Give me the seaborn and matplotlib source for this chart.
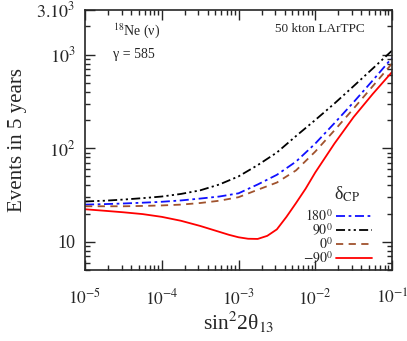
import numpy as np
import pandas as pd
import matplotlib
matplotlib.use('Agg')
import matplotlib.pyplot as plt
from matplotlib.ticker import LogLocator, NullFormatter, FixedLocator, FixedFormatter
import seaborn as sns

# Datos (exponente de sin^2 2theta13)
log_sin2 = [-5, -4.75, -4.5, -4.25, -4, -3.75, -3.5, -3.25, -3,
            -2.75, -2.5, -2.25, -2, -1.75, -1.5, -1.25, -1]
ev_180 = [25, 25.3, 25.7, 26.2, 26.8, 27.7, 29, 30.5, 33,
          41, 52, 72, 112, 185, 310, 530, 920]
ev_90 = [27, 27.5, 28.3, 29.3, 30.5, 32.5, 35.5, 41, 50,
         66, 90, 135, 200, 300, 460, 710, 1100]
ev_0 = [24, 24, 24, 24.2, 24.5, 25, 26, 27.5, 30,
        36, 43, 58, 92, 155, 265, 460, 800]

# la curva -90 tiene más puntos alrededor del mínimo
log_sin2_m90 = [-5, -4.75, -4.5, -4.25, -4, -3.75, -3.5, -3.25, -3.125, -3,
                -2.875, -2.75, -2.625, -2.5, -2.375, -2.25, -2.125, -2,
                -1.75, -1.5, -1.25, -1]
ev_m90 = [22.3, 21.5, 20.7, 19.8, 18.5, 16.8, 14.8, 12.8, 11.9, 11.2,
          10.8, 10.75, 11.6, 13.6, 18.5, 26, 37, 55,
          112, 215, 380, 650]

labels = [r'$180^0$', r'$90^0$', r'$0^0$', r'$-90^0$']
colors = ['#1010ff', '#000000', '#a0522d', '#ff0000']
styles = [(0, (5, 2, 1.5, 2)), (0, (5, 1.8, 1.2, 1.8, 1.2, 1.8)), (0, (4, 3)), '-']

xs = [log_sin2, log_sin2, log_sin2, log_sin2_m90]
series = [ev_180, ev_90, ev_0, ev_m90]

sns.set_style('ticks')
plt.rcParams['font.family'] = ['Liberation Serif', 'DejaVu Serif']
plt.rcParams['mathtext.fontset'] = 'stix'

fig = plt.figure(figsize=(4.07, 3.41), dpi=100)
ax = fig.add_axes([0.209, 0.208, 0.754, 0.763])

for xe, y, lab, c, ls in zip(xs, series, labels, colors, styles):
    sns.lineplot(x=10.0 ** np.array(xe), y=np.array(y, dtype=float), ax=ax, color=c,
                 linestyle=ls, linewidth=1.3, label=lab)

ax.set_xscale('log')
ax.set_yscale('log')
ax.set_xlim(1e-5, 1e-1)
ax.set_ylim(5, 3000)

ax.xaxis.set_major_locator(FixedLocator([1e-5, 1e-4, 1e-3, 1e-2, 1e-1]))
ax.xaxis.set_major_formatter(FixedFormatter([r'$10^{-5}$', r'$10^{-4}$', r'$10^{-3}$',
                                              r'$10^{-2}$', r'$10^{-1}$']))
ax.xaxis.set_minor_locator(LogLocator(base=10, subs=np.arange(2, 10)))
ax.xaxis.set_minor_formatter(NullFormatter())
ax.yaxis.set_major_locator(FixedLocator([10, 100, 1000, 3000]))
ax.yaxis.set_major_formatter(FixedFormatter(['10', r'$10^2$', r'$10^3$', r'$3.10^3$']))
ax.yaxis.set_minor_locator(LogLocator(base=10, subs=np.arange(2, 10)))
ax.yaxis.set_minor_formatter(NullFormatter())

ax.tick_params(which='both', direction='in', top=True, right=True, labelsize=13, width=1)
ax.tick_params(axis='x', which='major', length=7, pad=13, labelsize=12.5)
ax.tick_params(axis='y', which='major', length=7, pad=7)
ax.tick_params(which='minor', length=3.5)
for s in ax.spines.values():
    s.set_linewidth(1.2)

ax.set_xlabel('sin$^2$2θ$_{13}$', fontsize=15.5, labelpad=1)
ax.set_ylabel('Events in 5 years', fontsize=15)
ax.yaxis.set_label_coords(-0.19, 0.5)

ax.text(0.09, 0.92, r'$^{18}$Ne (ν)', transform=ax.transAxes, fontsize=10, va='center')
ax.text(0.09, 0.83, 'γ = 585', transform=ax.transAxes, fontsize=10, va='center')
ax.text(0.912, 0.925, '50 kton LArTPC', transform=ax.transAxes, fontsize=9.5,
        va='center', ha='right')

# título de la leyenda separado, como en el original
ax.text(0.855, 0.29, 'δ$_{\\rm CP}$', transform=ax.transAxes, fontsize=13,
        ha='center', va='center')
leg = ax.legend(loc='lower right', bbox_to_anchor=(0.935, 0.015), frameon=False,
                markerfirst=False, fontsize=10, handlelength=2.6, handletextpad=0.2,
                labelspacing=-0.15, borderpad=0.0, borderaxespad=0.0)

plt.savefig('out.png', dpi=100)
plt.close()
